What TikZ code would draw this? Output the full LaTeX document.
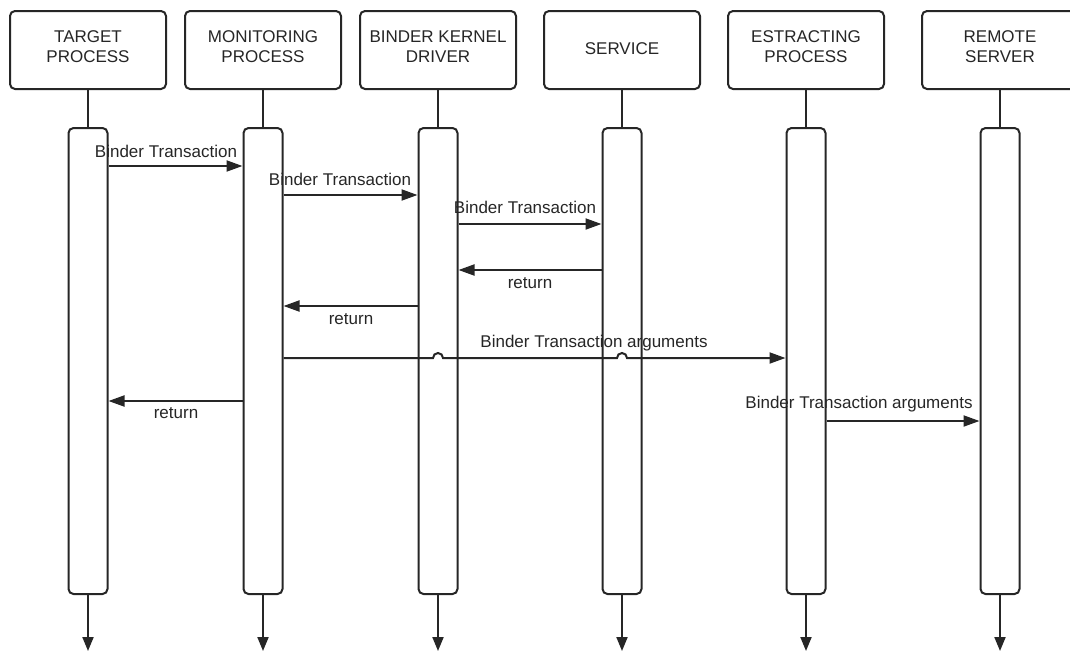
\documentclass[tikz,border=0pt]{standalone}
\usepackage{fontspec}
\setmainfont{Liberation Sans}
\usetikzlibrary{arrows.meta,calc}
\begin{document}
\begin{tikzpicture}[x=1pt,y=1pt,
  ink/.style={draw=black!85, line width=2pt},
  actor/.style={ink, rounded corners=5pt, minimum width=156pt, minimum height=78pt,
    inner sep=0pt, fill=white},
  actortext/.style={align=center, font=\fontsize{17}{20}\selectfont, inner sep=0pt, text=black!85},
  activation/.style={ink, rounded corners=5pt, minimum width=39pt, minimum height=466pt,
    fill=white, inner sep=0pt},
  lifeline/.style={ink, -{Triangle[length=14pt,width=11pt]}},
  msg/.style={ink, -{Triangle[length=16pt,width=11pt]}},
  lbl/.style={font=\fontsize{17}{20}\selectfont, inner sep=0pt, text=black!85}
]
\useasboundingbox (0,0) rectangle (1070,-651);
\clip (0,0) rectangle (1070,-651);

% participants
\node[actor] (hT) at (88,-50)   {};
\node[actor] (hM) at (263,-50)  {};
\node[actor] (hB) at (438,-50)  {};
\node[actor] (hS) at (622,-50)  {};
\node[actor] (hE) at (806,-50)  {};
\node[actor] (hR) at (1000,-50) {};
\node[actortext] (tT) at ($(hT.center)+(0,3)$) {TARGET\\PROCESS};
\node[actortext] (tM) at ($(hM.center)+(0,3)$) {MONITORING\\PROCESS};
\node[actortext] (tB) at ($(hB.center)+(0,3)$) {BINDER KERNEL\\DRIVER};
\node[actortext] (tS) at ($(hS.center)+(0,1)$) {SERVICE};
\node[actortext] (tE) at ($(hE.center)+(0,3)$) {ESTRACTING\\PROCESS};
\node[actortext] (tR) at ($(hR.center)+(0,3)$) {REMOTE\\SERVER};

% lifelines running to the bottom
\coordinate (floor) at (0,-651);
\coordinate (barmid) at (0,-361);
\foreach \p in {T,M,B,S,E,R}
  \draw[lifeline] (h\p.south) -- (h\p.south |- floor);

% activation bars
\foreach \p in {T,M,B,S,E,R}
  \node[activation] (a\p) at (h\p.south |- barmid) {};

% message rows
\coordinate (r1) at (0,-166);
\coordinate (r2) at (0,-195);
\coordinate (r3) at (0,-224);
\coordinate (r4) at (0,-270);
\coordinate (r5) at (0,-306);
\coordinate (r6) at (0,-358);
\coordinate (r7) at (0,-401);
\coordinate (r8) at (0,-421);

\draw[msg] (aT.east |- r1) -- (aM.west |- r1);
\draw[msg] (aM.east |- r2) -- (aB.west |- r2);
\draw[msg] (aB.east |- r3) -- (aS.west |- r3);
\draw[msg] (aS.west |- r4) -- (aB.east |- r4);
\draw[msg] (aB.west |- r5) -- (aM.east |- r5);
\draw[msg] (aM.east |- r6)
  -- ($(aB.center |- r6)+(-5,0)$) arc[start angle=180,end angle=0,radius=5]
  -- ($(aS.center |- r6)+(-5,0)$) arc[start angle=180,end angle=0,radius=5]
  -- (aE.west |- r6);
\draw[msg] (aM.west |- r7) -- (aT.east |- r7);
\draw[msg] (aE.east |- r8) -- (aR.west |- r8);

% message labels
\node[lbl] (l1) at (166,-151) {Binder Transaction};
\node[lbl] (l2) at (340,-179) {Binder Transaction};
\node[lbl] (l3) at (525,-207) {Binder Transaction};
\node[lbl] (l4) at (530,-283) {return};
\node[lbl] (l5) at (351,-319) {return};
\node[lbl] (l6) at (594,-343) {Binder Transaction arguments};
\node[lbl] (l7) at (176,-413) {return};
\node[lbl] (l8) at (859,-404) {Binder Transaction arguments};
\end{tikzpicture}
\end{document}
